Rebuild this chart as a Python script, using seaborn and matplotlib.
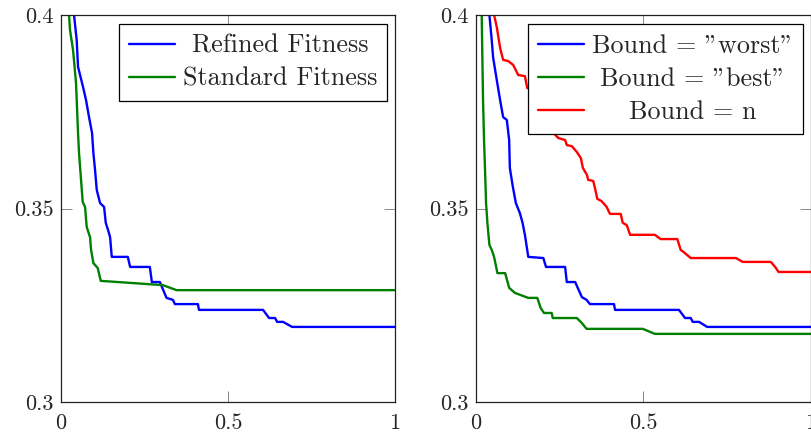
import numpy as np
import pandas as pd
import matplotlib
matplotlib.use("Agg")
import matplotlib.pyplot as plt
import seaborn as sns

# ---------------- data ----------------
refined_x = [0.039, 0.047, 0.051, 0.066, 0.075, 0.084, 0.093, 0.097, 0.102, 0.107, 0.117, 0.129,
             0.134, 0.141, 0.147, 0.152, 0.200, 0.207, 0.266, 0.272, 0.296, 0.316, 0.335, 0.341,
             0.410, 0.413, 0.605, 0.623, 0.641, 0.647, 0.665, 0.692, 1.000]
refined_y = [0.4000, 0.3935, 0.3866, 0.3814, 0.3780, 0.3736, 0.3695, 0.3643, 0.3599, 0.3548, 0.3514,
             0.3504, 0.3463, 0.3444, 0.3426, 0.3375, 0.3375, 0.3349, 0.3349, 0.3310, 0.3310, 0.3269,
             0.3264, 0.3253, 0.3253, 0.3238, 0.3238, 0.3217, 0.3217, 0.3207, 0.3207, 0.3194, 0.3194]

standard_x = [0.024, 0.027, 0.036, 0.045, 0.051, 0.054, 0.060, 0.065, 0.072, 0.077, 0.087, 0.090,
              0.097, 0.110, 0.119, 0.305, 0.346, 1.000]
standard_y = [0.4000, 0.3961, 0.3910, 0.3824, 0.3695, 0.3643, 0.3574, 0.3517, 0.3504, 0.3452, 0.3426,
              0.3393, 0.3359, 0.3346, 0.3313, 0.3302, 0.3289, 0.3289]

worst_x = [0.040, 0.047, 0.051, 0.062, 0.072, 0.081, 0.092, 0.099, 0.101, 0.110, 0.119, 0.131,
           0.139, 0.146, 0.156, 0.201, 0.209, 0.266, 0.271, 0.296, 0.316, 0.330, 0.340, 0.412,
           0.415, 0.606, 0.624, 0.641, 0.647, 0.666, 0.690, 1.000]
worst_y = [0.4000, 0.3935, 0.3891, 0.3832, 0.3780, 0.3736, 0.3729, 0.3677, 0.3605, 0.3556, 0.3514,
           0.3488, 0.3463, 0.3432, 0.3375, 0.3372, 0.3349, 0.3349, 0.3310, 0.3310, 0.3271, 0.3264,
           0.3253, 0.3253, 0.3238, 0.3238, 0.3217, 0.3217, 0.3207, 0.3207, 0.3194, 0.3194]

best_x = [0.017, 0.021, 0.024, 0.027, 0.030, 0.034, 0.040, 0.047, 0.054, 0.064, 0.087, 0.099,
          0.116, 0.156, 0.183, 0.193, 0.203, 0.226, 0.229, 0.301, 0.316, 0.330, 0.498, 0.534, 1.000]
best_y = [0.4000, 0.3780, 0.3677, 0.3599, 0.3514, 0.3463, 0.3406, 0.3393, 0.3375, 0.3333, 0.3333,
          0.3295, 0.3282, 0.3269, 0.3269, 0.3243, 0.3230, 0.3230, 0.3217, 0.3217, 0.3204, 0.3189,
          0.3189, 0.3176, 0.3176]

n_x = [0.054, 0.062, 0.072, 0.081, 0.096, 0.111, 0.126, 0.146, 0.153, 0.166, 0.185, 0.205, 0.220,
       0.231, 0.246, 0.266, 0.271, 0.286, 0.301, 0.313, 0.319, 0.331, 0.335, 0.350, 0.355, 0.362,
       0.375, 0.390, 0.400, 0.432, 0.438, 0.450, 0.460, 0.534, 0.551, 0.601, 0.611, 0.619, 0.641,
       0.776, 0.796, 0.880, 0.893, 0.903, 1.000]
n_y = [0.4000, 0.3969, 0.3915, 0.3884, 0.3881, 0.3871, 0.3845, 0.3842, 0.3811, 0.3811, 0.3780,
       0.3750, 0.3720, 0.3695, 0.3682, 0.3677, 0.3664, 0.3661, 0.3646, 0.3630, 0.3605, 0.3587,
       0.3574, 0.3571, 0.3553, 0.3525, 0.3519, 0.3504, 0.3486, 0.3486, 0.3463, 0.3457, 0.3432,
       0.3432, 0.3421, 0.3421, 0.3393, 0.3388, 0.3372, 0.3372, 0.3362, 0.3362, 0.3349, 0.3336,
       0.3336]

left_labels = ["Refined Fitness", "Standard Fitness"]
right_labels = ['Bound = "worst"', 'Bound = "best"', "Bound = n"]
x_ticks = [0, 0.5, 1]
x_ticklabels = ["0", "0.5", "1"]
y_ticks = [0.3, 0.35, 0.4]
y_ticklabels = ["0.3", "0.35", "0.4"]

# ---------------- style ----------------
sns.set_theme(style="white")
plt.rcParams["font.family"] = ["cmr10", "DejaVu Serif"]
plt.rcParams["mathtext.fontset"] = "cm"
plt.rcParams["axes.unicode_minus"] = False
FS = 16
LFS = 18.8

fig = plt.figure(figsize=(8.12, 4.36), dpi=100)
axL = fig.add_axes([61 / 812, 34 / 436, 334 / 812, 387 / 436])
axR = fig.add_axes([476 / 812, 34 / 436, 335 / 812, 387 / 436])

def series_df(xs, ys, label):
    return pd.DataFrame({"x": xs, "y": ys, "series": label})

dfL = pd.concat([series_df(refined_x, refined_y, left_labels[0]),
                 series_df(standard_x, standard_y, left_labels[1])], ignore_index=True)
dfR = pd.concat([series_df(worst_x, worst_y, right_labels[0]),
                 series_df(best_x, best_y, right_labels[1]),
                 series_df(n_x, n_y, right_labels[2])], ignore_index=True)

palL = {left_labels[0]: (0, 0, 1), left_labels[1]: (0, 0.5, 0)}
palR = {right_labels[0]: (0, 0, 1), right_labels[1]: (0, 0.5, 0), right_labels[2]: (1, 0, 0)}

sns.lineplot(data=dfL, x="x", y="y", hue="series", palette=palL, estimator=None,
             sort=False, linewidth=1.7, ax=axL)
sns.lineplot(data=dfR, x="x", y="y", hue="series", palette=palR, estimator=None,
             sort=False, linewidth=1.7, ax=axR)

for ax in (axL, axR):
    ax.set_xlim(0, 1)
    ax.set_ylim(0.3, 0.4)
    ax.set_xlabel("")
    ax.set_ylabel("")
    ax.set_xticks(x_ticks)
    ax.set_xticklabels(x_ticklabels, fontsize=FS)
    ax.set_yticks(y_ticks)
    ax.set_yticklabels(y_ticklabels, fontsize=FS)
    ax.tick_params(axis="both", direction="in", length=8, width=0.7, color="#888888",
                   top=True, right=True, left=True, bottom=True)
    ax.tick_params(axis="x", pad=8)
    ax.tick_params(axis="y", pad=5.5)
    for s in ax.spines.values():
        s.set_color("#222222")
        s.set_linewidth(0.9)
    ax.grid(False)

def make_legend(ax, bbox):
    leg = ax.legend(loc="upper right", bbox_to_anchor=bbox, bbox_transform=fig.transFigure,
                    fontsize=LFS, frameon=True, fancybox=False, framealpha=1,
                    edgecolor="black", handlelength=1.75, handletextpad=0.3,
                    borderpad=0.38, labelspacing=0.36, borderaxespad=0)
    leg.get_frame().set_linewidth(0.9)
    for h in leg.get_lines():
        h.set_linewidth(1.7)
    fig.canvas.draw()
    r = fig.canvas.get_renderer()
    texts = leg.get_texts()
    widths = [t.get_window_extent(r).width for t in texts]
    w = max(widths)
    for t, wi in zip(texts, widths):
        t.set_position(((w - wi) / 2, 0))
    return leg

make_legend(axL, (387 / 812, 1 - 24 / 436))
make_legend(axR, (803 / 812, 1 - 24 / 436))

fig.savefig("out.png", dpi=100)
